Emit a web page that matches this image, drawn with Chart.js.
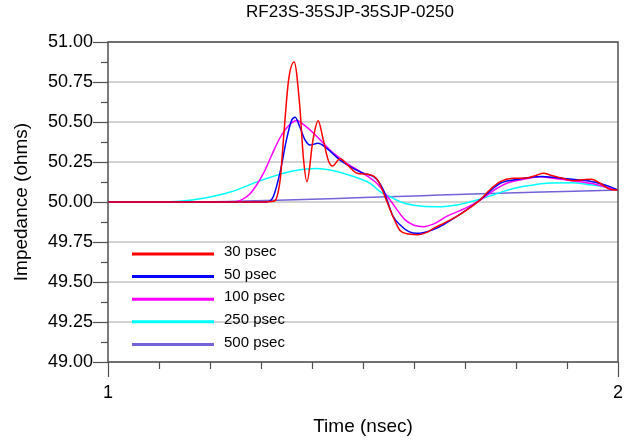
<!DOCTYPE html>
<html>
<head>
<meta charset="utf-8">
<script src="https://cdn.jsdelivr.net/npm/chart.js@4/dist/chart.umd.min.js"></script>
<style>
  body { margin: 0; background: #fff; }
  #wrap { width: 630px; height: 442px; }
</style>
</head>
<body>
<div id="wrap"><canvas id="tdr" width="630" height="442"></canvas></div>
<script>
// values (time in nsec, impedance in ohms)
const t30 = [1.00, 1.30, 1.325, 1.33, 1.338, 1.344, 1.354, 1.365, 1.376, 1.383, 1.390, 1.402, 1.412, 1.422, 1.432, 1.440, 1.455, 1.470, 1.488, 1.514, 1.530, 1.546, 1.560, 1.573, 1.590, 1.608, 1.625, 1.638, 1.660, 1.684, 1.710, 1.729, 1.750, 1.769, 1.794, 1.821, 1.838, 1.854, 1.870, 1.890, 1.912, 1.935, 1.948, 1.965, 1.984, 2.00];
const z30 = [50.00, 50.00, 50.005, 50.02, 50.15, 50.39, 50.76, 50.875, 50.60, 50.28, 50.127, 50.39, 50.508, 50.39, 50.26, 50.225, 50.27, 50.23, 50.18, 50.17, 50.13, 50.01, 49.90, 49.82, 49.80, 49.795, 49.81, 49.835, 49.87, 49.91, 49.965, 50.012, 50.08, 50.127, 50.148, 50.15, 50.165, 50.18, 50.165, 50.15, 50.133, 50.14, 50.142, 50.117, 50.08, 50.075];

const t50 = [1.00, 1.31, 1.324, 1.337, 1.350, 1.360, 1.367, 1.376, 1.386, 1.396, 1.412, 1.429, 1.455, 1.481, 1.500, 1.520, 1.530, 1.540, 1.559, 1.575, 1.590, 1.605, 1.620, 1.644, 1.684, 1.729, 1.769, 1.800, 1.850, 1.900, 1.950, 1.984, 2.00];
const z50 = [50.00, 50.00, 50.033, 50.18, 50.39, 50.51, 50.53, 50.47, 50.39, 50.356, 50.367, 50.335, 50.262, 50.21, 50.18, 50.16, 50.13, 50.075, 49.91, 49.85, 49.815, 49.804, 49.81, 49.835, 49.91, 50.0125, 50.117, 50.14, 50.16, 50.145, 50.127, 50.096, 50.075];

const t100 = [1.00, 1.24, 1.26, 1.278, 1.29, 1.305, 1.322, 1.337, 1.355, 1.37, 1.385, 1.403, 1.42, 1.435, 1.452, 1.468, 1.50, 1.527, 1.553, 1.582, 1.60, 1.618, 1.64, 1.664, 1.70, 1.729, 1.755, 1.782, 1.82, 1.847, 1.88, 1.91, 1.95, 1.98, 2.00];
const z100 = [50.00, 50.00, 50.01, 50.05, 50.10, 50.18, 50.30, 50.40, 50.48, 50.51, 50.48, 50.43, 50.375, 50.325, 50.28, 50.242, 50.18, 50.117, 50.0125, 49.89, 49.855, 49.846, 49.865, 49.91, 49.96, 50.01, 50.07, 50.117, 50.145, 50.158, 50.145, 50.133, 50.115, 50.09, 50.075];

const t250 = [1.00, 1.10, 1.14, 1.19, 1.24, 1.30, 1.35, 1.38, 1.41, 1.44, 1.461, 1.49, 1.514, 1.533, 1.553, 1.573, 1.60, 1.644, 1.69, 1.729, 1.76, 1.795, 1.83, 1.86, 1.91, 1.94, 1.965, 2.00];
const z250 = [50.00, 50.00, 50.004, 50.025, 50.062, 50.135, 50.185, 50.203, 50.21, 50.197, 50.18, 50.15, 50.117, 50.067, 50.033, 50.002, 49.98, 49.97, 49.985, 50.017, 50.05, 50.085, 50.105, 50.117, 50.12, 50.11, 50.10, 50.075];

const t500 = [1.00, 1.15, 1.25, 1.35, 1.45, 1.55, 1.65, 1.75, 1.85, 1.95, 2.00];
const z500 = [50.00, 50.00, 50.004, 50.012, 50.022, 50.033, 50.043, 50.053, 50.062, 50.07, 50.075];

const seriesNames = ["30 psec", "50 psec", "100 psec", "250 psec", "500 psec"];
const seriesColors = ["#ff0000", "#0000ff", "#ff00ff", "#00ffff", "#7264d8"];
const yTickValues = [49.00, 49.25, 49.50, 49.75, 50.00, 50.25, 50.50, 50.75, 51.00];
const xTickLabels = ["1", "2"];
const chartTitle = "RF23S-35SJP-35SJP-0250";

Chart.defaults.font.family = "'Liberation Sans', Arial, sans-serif";
Chart.defaults.color = "#000";

const times = [t30, t50, t100, t250, t500];
const imps = [z30, z50, z100, z250, z500];

function isMajorY(v) {
    return yTickValues.some(m => Math.abs(m - v) < 1e-6);
}

/* title, tick marks, frame and the in-plot legend */
const decor = {
    id: "decor",
    afterDraw(chart) {
        const ctx = chart.ctx;
        const a = chart.chartArea;
        const xs = chart.scales.x;
        const ys = chart.scales.y;
        ctx.save();

        ctx.font = "17px 'Liberation Sans', Arial, sans-serif";
        ctx.fillStyle = "#000";
        ctx.textAlign = "center";
        ctx.textBaseline = "middle";
        ctx.fillText(chartTitle, 350, 12);

        ctx.strokeStyle = "#505050";
        ctx.lineWidth = 1.5;
        ctx.strokeRect(a.left, a.top, a.right - a.left, a.bottom - a.top);

        // y ticks, long at labelled values
        ctx.lineWidth = 1.2;
        for (let v = 49; v <= 51.0001; v += 0.125) {
            const py = Math.round(ys.getPixelForValue(v)) + 0.5;
            const len = isMajorY(v) ? 15 : 7;
            ctx.beginPath();
            ctx.moveTo(a.left - len, py);
            ctx.lineTo(a.left, py);
            ctx.stroke();
        }
        // x ticks, the ends run further down
        for (let i = 0; i <= 10; i++) {
            const px = Math.round(xs.getPixelForValue(1 + i / 10)) + 0.5;
            const len = (i === 0 || i === 10) ? 15 : 7;
            ctx.beginPath();
            ctx.moveTo(px, a.bottom);
            ctx.lineTo(px, a.bottom + len);
            ctx.stroke();
        }

        // legend
        ctx.font = "15px 'Liberation Sans', Arial, sans-serif";
        ctx.textAlign = "left";
        seriesNames.forEach((name, i) => {
            const ly = a.top + 212 + i * 22.6;
            ctx.strokeStyle = seriesColors[i];
            ctx.lineWidth = 3;
            ctx.beginPath();
            ctx.moveTo(a.left + 24, ly);
            ctx.lineTo(a.left + 106, ly);
            ctx.stroke();
            ctx.fillText(name, a.left + 116, ly - 2);
        });
        ctx.restore();
    }
};

new Chart(document.getElementById("tdr"), {
    type: "line",
    data: {
        datasets: seriesNames.map((name, i) => ({
            label: name,
            data: times[i].map((t, j) => ({ x: t, y: imps[i][j] })),
            borderColor: seriesColors[i],
            borderWidth: 1.5,
            pointRadius: 0,
            cubicInterpolationMode: "monotone",
            fill: false
        }))
    },
    options: {
        responsive: false,
        animation: false,
        layout: { padding: { top: 42, right: 12, bottom: 0, left: 0 } },
        plugins: {
            legend: { display: false },
            tooltip: { enabled: false },
            title: { display: false }
        },
        scales: {
            x: {
                type: "linear",
                min: 1,
                max: 2,
                border: { display: false },
                grid: { display: false, drawTicks: false },
                ticks: {
                    stepSize: 0.1,
                    autoSkip: false,
                    maxRotation: 0,
                    padding: 20,
                    font: { size: 18 },
                    callback: v => Math.abs(v - Math.round(v)) < 1e-9 ? xTickLabels[Math.round(v) - 1] : ""
                },
                title: {
                    display: true,
                    text: "Time (nsec)",
                    font: { size: 19 },
                    padding: { top: 4, bottom: 4 }
                },
                afterFit: s => { s.height = 80; s.paddingRight = 0; s.paddingLeft = 0; }
            },
            y: {
                min: 49,
                max: 51,
                border: { display: false },
                grid: {
                    drawTicks: false,
                    lineWidth: 2,
                    color: c => c.tick && isMajorY(c.tick.value) ? "#d2d2d2" : "rgba(0,0,0,0)"
                },
                ticks: {
                    stepSize: 0.125,
                    autoSkip: false,
                    padding: 15,
                    font: { size: 18 },
                    callback: v => isMajorY(v) ? v.toFixed(2) : ""
                },
                title: {
                    display: true,
                    text: "Impedance (ohms)",
                    font: { size: 19 },
                    padding: { top: 10, bottom: 10 }
                },
                afterFit: s => { s.width = 108; s.paddingTop = 0; }
            }
        }
    },
    plugins: [decor]
});
</script>
</body>
</html>
